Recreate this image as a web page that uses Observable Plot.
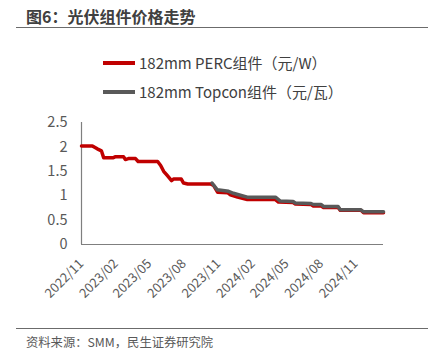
<!DOCTYPE html>
<html><head><meta charset="utf-8">
<script src="https://cdn.jsdelivr.net/npm/d3@7"></script>
<script src="https://cdn.jsdelivr.net/npm/@observablehq/plot@0.6"></script>
<style>
body{margin:0;background:#fff;font-family:"Noto Sans CJK SC","Noto Sans",sans-serif;}
#wrap{position:relative;width:428px;height:363px;overflow:hidden;}
#title{position:absolute;left:26px;top:5px;font-size:16px;font-weight:bold;color:#404040;line-height:22px;}
#tline{position:absolute;left:16px;top:27px;width:412px;height:0;border-top:1.5px solid #6b6b6b;}
#fline{position:absolute;left:16px;top:328px;width:412px;height:0;border-top:1.5px solid #6b6b6b;}
#src{position:absolute;left:26px;top:333px;font-size:12.3px;color:#595959;line-height:18px;}
.leg{position:absolute;left:103px;font-size:15px;color:#404040;line-height:20px;display:flex;align-items:center;white-space:nowrap;}
.leg span.sw{display:inline-block;width:32px;height:3.5px;margin-right:4px;}
#plot{position:absolute;left:0;top:0;}
</style></head>
<body><div id="wrap">
<div id="plot"></div>
<div id="title">图6：光伏组件价格走势</div>
<div id="tline"></div>
<div class="leg" style="top:53px"><span class="sw" style="background:#C00000"></span>182mm PERC组件（元/W）</div>
<div class="leg" style="top:82px"><span class="sw" style="background:#595959"></span>182mm Topcon组件（元/瓦）</div>
<div id="fline"></div>
<div id="src">资料来源：SMM，民生证券研究院</div>
</div>
<script>
const percDates = ["2022-11-01","2022-11-30","2022-12-13","2022-12-24","2022-12-30","2023-01-25","2023-01-31","2023-02-21","2023-02-26","2023-03-06","2023-03-25","2023-04-01","2023-05-23","2023-05-31","2023-06-08","2023-06-18","2023-06-29","2023-07-04","2023-07-25","2023-07-31","2023-08-11","2023-10-11","2023-10-19","2023-10-30","2023-11-26","2023-12-03","2023-12-22","2024-01-17","2024-04-01","2024-04-09","2024-05-18","2024-05-24","2024-07-05","2024-07-11","2024-08-01","2024-08-07","2024-09-15","2024-09-21","2024-11-15","2024-11-22","2025-01-14"];
const percValues = [2.02,2.02,1.96,1.92,1.78,1.78,1.80,1.80,1.74,1.76,1.76,1.70,1.70,1.62,1.50,1.41,1.31,1.34,1.34,1.26,1.24,1.24,1.21,1.07,1.06,1.02,0.97,0.92,0.92,0.87,0.86,0.83,0.82,0.79,0.79,0.76,0.76,0.70,0.70,0.65,0.65];
const topconDates = ["2023-10-15","2023-10-29","2023-11-28","2023-12-11","2024-01-03","2024-01-17","2024-04-01","2024-04-14","2024-05-18","2024-05-24","2024-07-05","2024-07-11","2024-08-01","2024-08-07","2024-09-15","2024-09-21","2024-11-15","2024-11-22","2025-01-14"];
const topconValues = [1.26,1.12,1.09,1.05,1.00,0.97,0.97,0.89,0.88,0.85,0.84,0.82,0.82,0.78,0.78,0.71,0.71,0.67,0.67];
const xTickLabels = ["2022/11","2023/02","2023/05","2023/08","2023/11","2024/02","2024/05","2024/08","2024/11"];
const yTicks = [0,0.5,1,1.5,2,2.5];

const perc = percDates.map((d,i)=>({date:new Date(d+"T00:00:00Z"),value:percValues[i]}));
const topcon = topconDates.map((d,i)=>({date:new Date(d+"T00:00:00Z"),value:topconValues[i]}));
const xTicks = xTickLabels.map(s=>new Date(s.replace("/","-")+"-01T00:00:00Z"));
const fmt = d3.utcFormat("%Y/%m");

const chart = Plot.plot({
  width:428, height:363,
  marginTop:122, marginBottom:119, marginLeft:81, marginRight:45,
  style:{fontFamily:'"Noto Sans CJK SC","Noto Sans",sans-serif', color:"#595959", background:"transparent"},
  x:{type:"utc", domain:[new Date("2022-11-01T00:00:00Z"), new Date("2025-01-14T00:00:00Z")], label:null},
  y:{domain:[0,2.5], label:null},
  marks:[
    Plot.axisX({ticks:xTicks, tickFormat:fmt, tickRotate:-45, tickSize:0, tickPadding:17, fontSize:13, fill:"#595959", label:null}),
    Plot.axisY({ticks:yTicks, tickFormat:d=>String(d), tickSize:0, tickPadding:14, fontSize:14.5, fill:"#595959", label:null}),
    Plot.ruleX([new Date("2022-11-01T00:00:00Z")], {stroke:"#7f7f7f", strokeWidth:1.2}),
    Plot.ruleY([0], {stroke:"#7f7f7f", strokeWidth:1.2}),
    Plot.line(perc, {x:"date", y:"value", stroke:"#C00000", strokeWidth:3.5, strokeLinejoin:"round"}),
    Plot.line(topcon, {x:"date", y:"value", stroke:"#595959", strokeWidth:3.5, strokeLinejoin:"round"})
  ]
});
document.getElementById("plot").appendChild(chart);
</script>
</body></html>
